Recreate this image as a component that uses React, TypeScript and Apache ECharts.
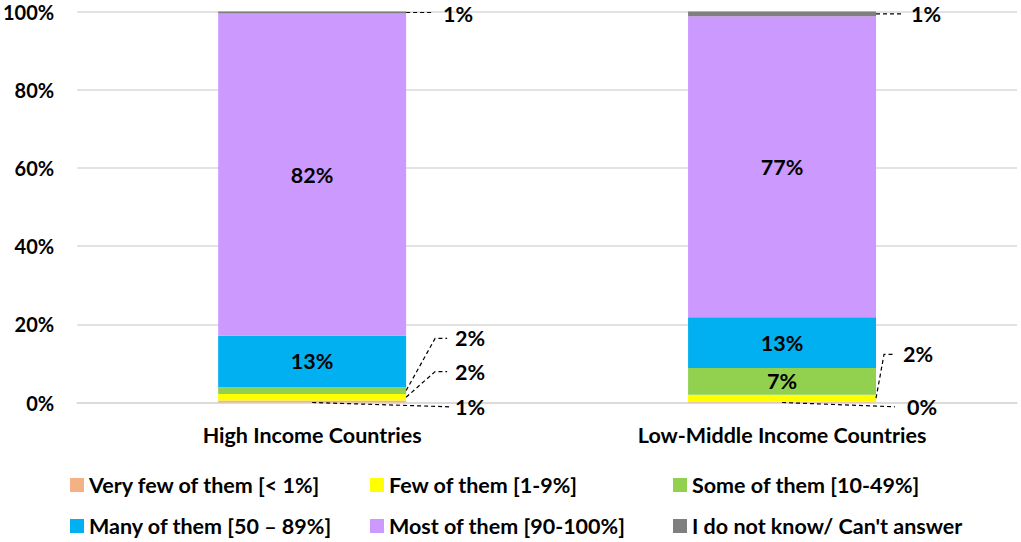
import React, { useEffect, useRef } from "react";
import * as echarts from "echarts";

const categories = ["High Income Countries", "Low-Middle Income Countries"];
const seriesNames = [
  "Very few of them [< 1%]",
  "Few of them [1-9%]",
  "Some of them [10-49%]",
  "Many of them [50 – 89%]",
  "Most of them [90-100%]",
  "I do not know/ Can't answer",
];
const veryFew = [0.5, 0.2];
const few = [1.7, 1.8];
const some = [1.7, 6.8];
const many = [13.2, 13.0];
const most = [82.4, 77.0];
const dontKnow = [0.5, 1.2];
const yTicks = [0, 20, 40, 60, 80, 100];

const seriesValues = [veryFew, few, some, many, most, dontKnow];
const colors = ["#F4B183", "#FFFF00", "#92D050", "#00B0F0", "#CC99FF", "#7F7F7F"];

// Outside callouts: [category index, series index, kind, label position (value), elbow dx, line end dx, text dx]
const callouts: [number, number, string, number, number, number, number][] = [
  [0, 5, "flat", 99.3, 0, 28, 37],
  [0, 2, "elbow", 16.4, 29, 41, 49],
  [0, 1, "elbow", 7.9, 29, 41, 49],
  [0, 0, "base", -1.1, 0, 43, 49],
  [1, 5, "flat", 99.3, 0, 27, 35],
  [1, 1, "elbow", 12.3, 8, 19, 27],
  [1, 0, "base", -1.1, 0, 19, 31],
];

const FONT = "Lato, 'Open Sans', sans-serif";
const FS = 21.5;
const BAR_FRACTION = 0.4;

function segmentMid(cat: number, sIdx: number): number {
  let base = 0;
  for (let i = 0; i < sIdx; i++) base += seriesValues[i][cat];
  return base + seriesValues[sIdx][cat] / 2;
}

export default function App() {
  const ref = useRef<HTMLDivElement>(null);
  useEffect(() => {
    if (!ref.current) return;
    const chart = echarts.init(ref.current, null, { renderer: "svg" });

    const barSeries = seriesNames.map((name, i) => ({
      name,
      type: "bar",
      stack: "total",
      barWidth: "40%",
      itemStyle: { color: colors[i] },
      label: {
        show: i >= 2 && i <= 4,
        position: "inside",
        fontFamily: FONT,
        fontWeight: "bold",
        fontSize: FS,
        color: "#000",
        formatter: (p: any) => (p.value >= 5 ? Math.round(p.value) + "%" : ""),
      },
      emphasis: { disabled: true },
      data: seriesValues[i],
    }));

    const calloutData = callouts.map((c) => [c[0], segmentMid(c[0], c[1]), c[3]]);

    const calloutSeries = {
      type: "custom",
      silent: true,
      clip: false,
      z: 10,
      data: calloutData,
      renderItem: (params: any, api: any) => {
        const c = callouts[params.dataIndex];
        const cat = api.value(0);
        const anchor = api.value(1);
        const lblV = api.value(2);
        const band = api.size([1, 0])[0];
        const pA = api.coord([cat, anchor]);
        const pL = api.coord([cat, lblV]);
        const center = pA[0];
        const right = center + (band * BAR_FRACTION) / 2;
        const kind = c[2];
        let pts: number[][];
        if (kind === "flat") {
          pts = [[right, pA[1]], [right + c[5], pA[1]]];
        } else if (kind === "elbow") {
          pts = [[right, pA[1]], [right + c[4], pL[1]], [right + c[5], pL[1]]];
        } else {
          const p0 = api.coord([cat, 0]);
          pts = [[center, p0[1]], [right + c[5], pL[1]]];
        }
        const value = seriesValues[c[1]][c[0]];
        return {
          type: "group",
          children: [
            {
              type: "polyline",
              shape: { points: pts },
              style: { stroke: "#000", lineWidth: 1.2, lineDash: [4, 3], fill: null },
            },
            {
              type: "text",
              x: right + c[6],
              y: pL[1],
              style: {
                text: Math.round(value) + "%",
                fontFamily: FONT,
                fontWeight: "bold",
                fontSize: FS,
                fill: "#000",
                align: "left",
                verticalAlign: "middle",
              },
            },
          ],
        };
      },
    };

    const legendCommon = {
      orient: "vertical",
      top: 474,
      height: 68,
      padding: 0,
      itemWidth: 14,
      itemHeight: 14,
      itemGap: 19,
      icon: "rect",
      selectedMode: false,
      textStyle: { fontFamily: FONT, fontWeight: "bold", fontSize: FS, color: "#000", lineHeight: 22 },
    };

    chart.setOption({
      animation: false,
      backgroundColor: "#fff",
      grid: { left: 75, right: 4, top: 11.5, bottom: 139.5, containLabel: false },
      legend: [
        { ...legendCommon, left: 70, data: [seriesNames[0], seriesNames[3]] },
        { ...legendCommon, left: 370, data: [seriesNames[1], seriesNames[4]] },
        { ...legendCommon, left: 673, data: [seriesNames[2], seriesNames[5]] },
      ],
      xAxis: {
        type: "category",
        data: categories,
        axisLine: { show: true, lineStyle: { color: "#d9d9d9", width: 1.5 } },
        axisTick: { show: false },
        axisLabel: {
          fontFamily: FONT,
          fontWeight: "bold",
          fontSize: FS,
          color: "#000",
          margin: 21,
        },
      },
      yAxis: {
        type: "value",
        min: yTicks[0],
        max: yTicks[yTicks.length - 1],
        interval: yTicks[1] - yTicks[0],
        axisLine: { show: false },
        axisTick: { show: false },
        splitLine: { lineStyle: { color: "#d9d9d9", width: 1.5 } },
        axisLabel: {
          formatter: "{value}%",
          fontFamily: FONT,
          fontWeight: "bold",
          fontSize: 20,
          color: "#000",
          margin: 23,
        },
      },
      series: [...barSeries, calloutSeries],
    });
    return () => chart.dispose();
  }, []);
  return (
    <div
      ref={ref}
      style={{ position: "fixed", left: 0, top: 0, width: 1021, height: 542, background: "#fff" }}
    />
  );
}
